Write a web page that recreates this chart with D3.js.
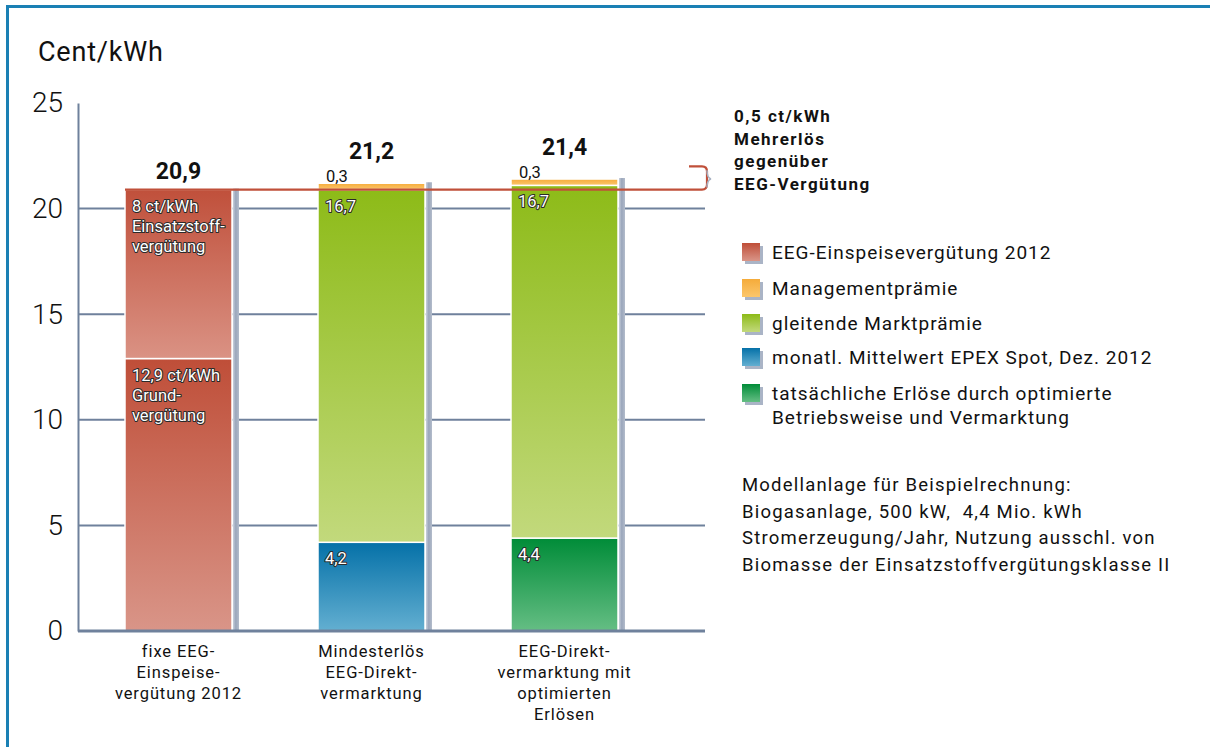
<!DOCTYPE html>
<html>
<head>
<meta charset="utf-8">
<script src="https://cdn.jsdelivr.net/npm/d3@7"></script>
<style>
  body { margin: 0; background: #fff; }
  svg { display: block; font-family: Roboto, "Open Sans", sans-serif; }
</style>
</head>
<body>
<div id="chart"></div>
<script>
// ---------- data ----------
var categories = ['fixe', 'mindest', 'optimiert'];
var categoryLabels = [
  ['fixe EEG-', 'Einspeise-', 'vergütung 2012'],
  ['Mindesterlös', 'EEG-Direkt-', 'vermarktung'],
  ['EEG-Direkt-', 'vermarktung mit', 'optimierten', 'Erlösen']
];

// stacked segments, bottom to top
var grundverguetung   = [12.9, 0, 0];
var einsatzstoff      = [8.0, 0, 0];
var epexSpot          = [0, 4.2, 0];
var erloese           = [0, 0, 4.4];
var marktpraemie      = [0, 16.7, 16.7];
var managementpraemie = [0, 0.3, 0.3];
var totals            = [20.9, 21.2, 21.4];

var yTicks = [0, 5, 10, 15, 20, 25];

var legendNames = [
  ['EEG-Einspeisevergütung 2012'],
  ['Managementprämie'],
  ['gleitende Marktprämie'],
  ['monatl. Mittelwert EPEX Spot, Dez. 2012'],
  ['tatsächliche Erlöse durch optimierte', 'Betriebsweise und Vermarktung']
];
var legendKeys = ['grund', 'mgmt', 'markt', 'epex', 'erloese'];

var noteLines = ['0,5 ct/kWh', 'Mehrerlös', 'gegenüber', 'EEG-Vergütung'];
var modelLines = [
  'Modellanlage für Beispielrechnung:',
  'Biogasanlage, 500 kW,\u00a0 4,4 Mio. kWh',
  'Stromerzeugung/Jahr, Nutzung ausschl. von',
  'Biomasse der Einsatzstoffvergütungsklasse II'
];

var segmentText = {
  grund: ['12,9 ct/kWh', 'Grund-', 'vergütung'],
  einsatz: ['8 ct/kWh', 'Einsatzstoff-', 'vergütung']
};

// ---------- setup ----------
var width = 1210, height = 747;
var de = d3.formatLocale({ decimal: ',', thousands: '.', grouping: [3], currency: ['', '€'] });
var fmt = de.format('.1f');

var keys = ['grund', 'einsatz', 'epex', 'erloese', 'markt', 'mgmt'];
var data = categories.map(function(c, i) {
  return { cat: c, grund: grundverguetung[i], einsatz: einsatzstoff[i], epex: epexSpot[i],
           erloese: erloese[i], markt: marktpraemie[i], mgmt: managementpraemie[i], total: totals[i] };
});

var grads = {
  grund:   ['#bf4e38', '#d99588'],
  einsatz: ['#c0503b', '#da9284'],
  epex:    ['#0571a8', '#63afd1'],
  erloese: ['#008c38', '#65be84'],
  markt:   ['#8dbb18', '#c2d97c'],
  mgmt:    ['#f5ab3a', '#fbc66c']
};

var svg = d3.select('#chart').append('svg')
  .attr('width', width)
  .attr('height', height);

var defs = svg.append('defs');
Object.keys(grads).forEach(function(k) {
  var g = defs.append('linearGradient').attr('id', 'g-' + k)
    .attr('x1', 0).attr('y1', 0).attr('x2', 0).attr('y2', 1);
  g.append('stop').attr('offset', '0%').attr('stop-color', grads[k][0]);
  g.append('stop').attr('offset', '100%').attr('stop-color', grads[k][1]);
});
var sh = defs.append('linearGradient').attr('id', 'g-shadow')
  .attr('x1', 0).attr('y1', 0).attr('x2', 1).attr('y2', 0);
sh.append('stop').attr('offset', '0%').attr('stop-color', '#c9d0dc');
sh.append('stop').attr('offset', '45%').attr('stop-color', '#9aa6bb');
sh.append('stop').attr('offset', '100%').attr('stop-color', '#b3bccb');

// frame
svg.append('rect').attr('x', 6).attr('y', 5).attr('width', 3).attr('height', height - 5).attr('fill', '#1a80b4');
svg.append('rect').attr('x', 6).attr('y', 5).attr('width', width - 6).attr('height', 3).attr('fill', '#1a80b4');

var x = d3.scaleBand()
  .domain(categories)
  .range([78, 665])
  .paddingInner(0.4456)
  .paddingOuter(0.2435);

var y = d3.scaleLinear().domain([0, 25]).range([631, 103]);
var axisColor = '#6f819c';

// unit label
svg.append('text').attr('x', 38).attr('y', 61)
  .attr('font-size', 27).attr('letter-spacing', 0.8).attr('fill', '#111').text('Cent/kWh');

// grid lines
svg.append('g').selectAll('line')
  .data(yTicks.filter(function(t) { return t > 0 && t < 25; }))
  .enter().append('line')
  .attr('x1', 78).attr('x2', 705)
  .attr('y1', function(d) { return y(d); }).attr('y2', function(d) { return y(d); })
  .attr('stroke', axisColor).attr('stroke-width', 2);

// y axis
var yAxis = d3.axisLeft(y).tickValues(yTicks).tickSize(0).tickPadding(15);
var ya = svg.append('g').attr('transform', 'translate(78,0)').call(yAxis);
ya.select('.domain').attr('stroke', axisColor).attr('stroke-width', 2);
ya.selectAll('text').attr('font-size', 28).attr('fill', '#111')
  .attr('font-family', 'Roboto, sans-serif').attr('font-weight', 300);

// bar shadows
svg.append('g').selectAll('rect')
  .data(data).enter().append('rect')
  .attr('x', function(d) { return x(d.cat) + x.bandwidth() + 1; })
  .attr('y', function(d) { return y(d.total) - 1; })
  .attr('width', 6)
  .attr('height', function(d) { return y(0) - y(d.total) + 1; })
  .attr('fill', 'url(#g-shadow)');

// stacked bars
var series = d3.stack().keys(keys)(data);
var layers = svg.append('g').selectAll('g')
  .data(series).enter().append('g')
  .attr('fill', function(s) { return 'url(#g-' + s.key + ')'; });

layers.selectAll('rect')
  .data(function(s) { return s.filter(function(p) { return p[1] - p[0] > 0; }); })
  .enter().append('rect')
  .attr('x', function(p) { return x(p.data.cat); })
  .attr('y', function(p) { return y(p[1]); })
  .attr('width', x.bandwidth())
  .attr('height', function(p) { return y(p[0]) - y(p[1]); })
  .attr('stroke', '#fff').attr('stroke-width', 1.5);

// bottom axis line
svg.append('line').attr('x1', 78).attr('x2', 705).attr('y1', y(0)).attr('y2', y(0))
  .attr('stroke', axisColor).attr('stroke-width', 3);

// red reference line + bracket
var yRef = y(totals[0]), yTop = y(22);
svg.append('path')
  .attr('d', 'M' + x(categories[0]) + ',' + yRef + 'H702q5,0 5,-5V' + (yTop + 5) + 'q0,-5 -5,-5H689')
  .attr('fill', 'none').attr('stroke', '#c0503a').attr('stroke-width', 2.2);
svg.append('path')
  .attr('d', 'M707,' + (yTop + 4) + 'q0,' + ((yRef - yTop) / 2 - 4) + ' 4,' + ((yRef - yTop) / 2 - 3)
       + 'q-4,1 -4,' + ((yRef - yTop) / 2 - 3))
  .attr('fill', 'none').attr('stroke', '#a9b3c4').attr('stroke-width', 1.5);

// labels inside bars
var outlined = function(sel) {
  return sel.attr('fill', '#fff').attr('stroke', '#2a2a2a').attr('stroke-width', 2)
    .attr('paint-order', 'stroke').attr('stroke-linejoin', 'round');
};
series.forEach(function(s) {
  s.forEach(function(p) {
    var v = p[1] - p[0];
    if (v <= 0 || s.key === 'mgmt') return;
    var lines = segmentText[s.key] || [fmt(v)];
    var t = svg.append('text').attr('font-size', 16.5);
    outlined(t);
    lines.forEach(function(l, i) {
      t.append('tspan').attr('x', x(p.data.cat) + 7)
        .attr('y', y(p[1]) + 22 + i * 20).text(l);
    });
  });
});

// small management labels above bars
svg.append('g').selectAll('text')
  .data(data.filter(function(d) { return d.mgmt > 0; }))
  .enter().append('text')
  .attr('x', function(d) { return x(d.cat) + 8; })
  .attr('y', function(d) { return y(d.total) - 1; })
  .attr('font-size', 16.5).attr('fill', '#111')
  .text(function(d) { return fmt(d.mgmt); });

// totals
svg.append('g').selectAll('text')
  .data(data).enter().append('text')
  .attr('x', function(d) { return x(d.cat) + x.bandwidth() / 2; })
  .attr('y', function(d) { return y(d.total) - (d.mgmt > 0 ? 24 : 11); })
  .attr('text-anchor', 'middle')
  .attr('font-size', 23).attr('font-weight', 'bold').attr('fill', '#111')
  .text(function(d) { return fmt(d.total); });

// category labels
svg.append('g').selectAll('text')
  .data(data).enter().append('text')
  .attr('text-anchor', 'middle').attr('font-size', 16.5).attr('letter-spacing', 0.9).attr('fill', '#111')
  .each(function(d, i) {
    var t = d3.select(this);
    categoryLabels[i].forEach(function(l, j) {
      t.append('tspan').attr('x', x(d.cat) + x.bandwidth() / 2)
        .attr('y', 657 + j * 21).text(l);
    });
  });

// note
var note = svg.append('text').attr('font-size', 17).attr('font-weight', 'bold')
  .attr('letter-spacing', 1.5).attr('fill', '#111');
noteLines.forEach(function(l, i) {
  note.append('tspan').attr('x', 734).attr('y', 122 + i * 22.7).text(l);
});

// legend
var legendY = [253, 289, 324, 358, 394];
var legend = svg.append('g').selectAll('g')
  .data(legendKeys).enter().append('g')
  .attr('transform', function(d, i) { return 'translate(742,' + (legendY[i] - 10) + ')'; });
legend.append('rect').attr('x', 3).attr('y', 3).attr('width', 18).attr('height', 18).attr('fill', '#aab4c6');
legend.append('rect').attr('width', 18).attr('height', 18)
  .attr('fill', function(d) { return 'url(#g-' + d + ')'; });
legend.append('text').attr('font-size', 19).attr('letter-spacing', 1).attr('fill', '#111')
  .each(function(d, i) {
    var t = d3.select(this);
    legendNames[i].forEach(function(l, j) {
      t.append('tspan').attr('x', 30).attr('y', 16 + j * 24).text(l);
    });
  });

// model description
var model = svg.append('text').attr('font-size', 18.5).attr('letter-spacing', 1.2).attr('fill', '#111');
modelLines.forEach(function(l, i) {
  model.append('tspan').attr('x', 742).attr('y', 491 + i * 26.5).text(l);
});
</script>
</body>
</html>
